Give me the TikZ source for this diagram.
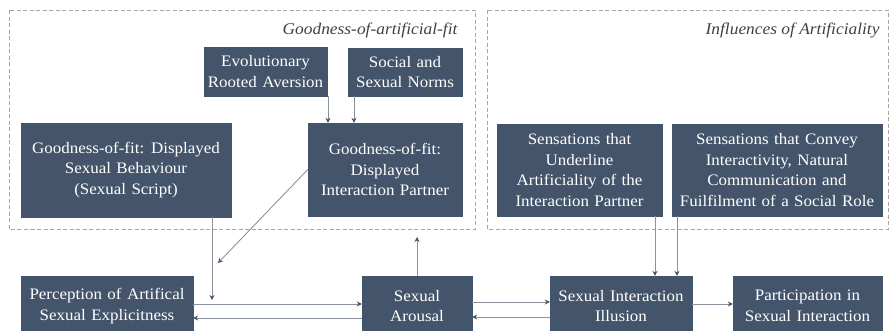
\documentclass[tikz,border=0pt]{standalone}
\usepackage{fontspec}
\setmainfont{Liberation Serif}[FakeStretch=1.06]
\usetikzlibrary{arrows.meta,calc}
\definecolor{boxfill}{HTML}{44546A}
\definecolor{arrowgray}{HTML}{8C929C}
\definecolor{dashgray}{HTML}{A6A6A6}
\definecolor{labelgray}{HTML}{404040}
\newcommand\myboxfont{\fontsize{16}{20.5}\selectfont\spaceskip=0.34em plus 0.1em minus 0.05em\relax}
\begin{document}
\begin{tikzpicture}[x=1pt,y=-1pt,
  box/.style={draw=boxfill,fill=boxfill,text=white,align=center,inner sep=1pt,
    font=\myboxfont},
  grp/.style={draw=dashgray,dashed,dash pattern=on 4pt off 2.5pt,line width=0.8pt},
  grplabel/.style={text=labelgray,font=\fontsize{16.4}{18}\selectfont\itshape,anchor=east},
  arr/.style={draw=arrowgray,line width=0.9pt,-{Stealth[length=5pt,width=5pt,color=boxfill,fill=boxfill]}}]
\useasboundingbox (0,0) rectangle (889,330);
% groups
\draw[grp] (9,10) rectangle (475,229);
\draw[grp] (487,10) rectangle (888,229);
\node[grplabel] (lab1) at (461,30) {Goodness-of-artificial-fit};
\node[grplabel] (lab2) at (883,30) {Influences of Artificiality};
% boxes
\node[box,minimum width=123,minimum height=49] (evo) at (265.5,71.5) {Evolutionary\\Rooted Aversion};
\node[box,minimum width=114,minimum height=48] (norms) at (405,72) {Social and\\Sexual Norms};
\node[box,minimum width=210,minimum height=94] (behav) at (126,170) {Goodness-of-fit: Displayed\\Sexual Behaviour\\(Sexual Script)};
\node[box,minimum width=154,minimum height=93] (partner) at (385,169.5) {Goodness-of-fit:\\Displayed\\Interaction Partner};
\node[box,minimum width=165,minimum height=92] (underline) at (579.5,170) {Sensations that\\Underline\\Artificiality of the\\Interaction Partner};
\node[box,minimum width=210,minimum height=92] (convey) at (777,170) {Sensations that Convey\\Interactivity, Natural\\Communication and\\Fuilfilment of a Social Role};
\node[box,minimum width=172,minimum height=60] (percep) at (107,306) {Perception of Artifical\\Sexual Explicitness};
\node[box,minimum width=110,minimum height=60] (arousal) at (417,306) {Sexual\\Arousal};
\node[box,minimum width=142,minimum height=60] (illusion) at (621,306) {Sexual Interaction\\Illusion};
\node[box,minimum width=149,minimum height=60] (particip) at (807.5,306) {Participation in\\Sexual Interaction};
% free ends
\coordinate (behavend) at (212,300);
\coordinate (diagend) at (218,263);
\coordinate (upend) at (417,237);
% connectors
\draw[arr] (evo.south -| 328,0) -- (partner.north -| 328,0);
\draw[arr] (norms.south -| 354,0) -- (partner.north -| 354,0);
\draw[arr] (behav.south -| behavend) -- (behavend);
\draw[arr] (partner.west) -- (diagend);
\draw[arr] (arousal.north) -- (upend);
\draw[arr] ([yshift=2]percep.east) -- ([yshift=2]arousal.west);
\draw[arr] ([yshift=-12]arousal.west) -- ([yshift=-12]percep.east);
\draw[arr] ([yshift=4]arousal.east) -- ([yshift=4]illusion.west);
\draw[arr] ([yshift=-11]illusion.west) -- ([yshift=-11]arousal.east);
\draw[arr] ([yshift=2]illusion.east) -- ([yshift=2]particip.west);
\draw[arr] (underline.south -| 655,0) -- (illusion.north -| 655,0);
\draw[arr] (convey.south -| 677,0) -- (illusion.north -| 677,0);
\end{tikzpicture}
\end{document}
